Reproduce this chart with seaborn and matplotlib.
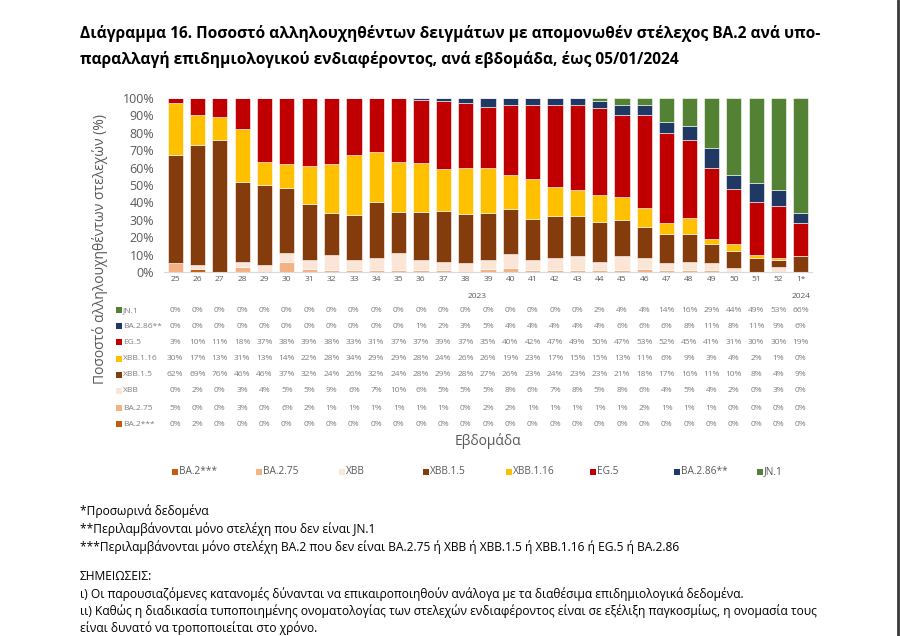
import numpy as np
import pandas as pd
import matplotlib
matplotlib.use("Agg")
import matplotlib.pyplot as plt
import matplotlib.transforms as mtransforms
from matplotlib.patches import Rectangle
from matplotlib.lines import Line2D
import seaborn as sns

weeks = ['25', '26', '27', '28', '29', '30', '31', '32', '33', '34', '35', '36', '37', '38',
         '39', '40', '41', '42', '43', '44', '45', '46', '47', '48', '49', '50', '51', '52', '1*']

variants = ['JN.1', 'BA.2.86**', 'EG.5', 'XBB.1.16', 'XBB.1.5', 'XBB', 'BA.2.75', 'BA.2***']

jn1 = [0, 0, 0, 0, 0, 0, 0, 0, 0, 0, 0, 0, 0, 0, 0, 0, 0, 0, 0, 2, 4, 4, 14, 16, 29, 44, 49, 53, 66]
ba286 = [0, 0, 0, 0, 0, 0, 0, 0, 0, 0, 0, 1, 2, 3, 5, 4, 4, 4, 4, 4, 6, 6, 6, 8, 11, 8, 11, 9, 6]
eg5 = [3, 10, 11, 18, 37, 38, 39, 38, 33, 31, 37, 37, 39, 37, 35, 40, 42, 47, 49, 50, 47, 53, 52, 45, 41, 31, 30, 30, 19]
xbb116 = [30, 17, 13, 31, 13, 14, 22, 28, 34, 29, 29, 28, 24, 26, 26, 19, 23, 17, 15, 15, 13, 11, 6, 9, 3, 4, 2, 1, 0]
xbb15 = [62, 69, 76, 46, 46, 37, 32, 24, 26, 32, 24, 28, 29, 28, 27, 26, 23, 24, 23, 23, 21, 18, 17, 16, 11, 10, 8, 4, 9]
xbb = [0, 2, 0, 3, 4, 5, 5, 9, 6, 7, 10, 6, 5, 5, 5, 8, 6, 7, 8, 5, 8, 6, 4, 5, 4, 2, 0, 3, 0]
ba275 = [5, 0, 0, 3, 0, 6, 2, 1, 1, 1, 1, 1, 1, 0, 2, 2, 1, 1, 1, 1, 1, 2, 1, 1, 1, 0, 0, 0, 0]
ba2 = [0, 2, 0, 0, 0, 0, 0, 0, 0, 0, 0, 0, 0, 0, 0, 0, 0, 0, 0, 0, 0, 0, 0, 0, 0, 0, 0, 0, 0]

series = [jn1, ba286, eg5, xbb116, xbb15, xbb, ba275, ba2]
colors = ['#548235', '#1F3864', '#C00000', '#FFC000', '#843C0C', '#FBE5D6', '#F4B183', '#C55A11']
legend_order = ['BA.2***', 'BA.2.75', 'XBB', 'XBB.1.5', 'XBB.1.16', 'EG.5', 'BA.2.86**', 'JN.1']
years = ['2023', '2024']

title_lines = ["Διάγραμμα 16. Ποσοστό αλληλουχηθέντων δειγμάτων με απομονωθέν στέλεχος BA.2 ανά υπο-",
               "παραλλαγή επιδημιολογικού ενδιαφέροντος, ανά εβδομάδα, έως 05/01/2024"]
notes = ["*Προσωρινά δεδομένα",
         "**Περιλαμβάνονται μόνο στελέχη που δεν είναι JN.1",
         "***Περιλαμβάνονται μόνο στελέχη BA.2 που δεν είναι BA.2.75 ή XBB ή XBB.1.5 ή XBB.1.16 ή EG.5 ή BA.2.86"]
remarks = ["ΣΗΜΕΙΩΣΕΙΣ:",
           "ι) Οι παρουσιαζόμενες κατανομές δύνανται να επικαιροποιηθούν ανάλογα με τα διαθέσιμα επιδημιολογικά δεδομένα.",
           "ιι) Καθώς η διαδικασία τυποποιημένης ονοματολογίας των στελεχών ενδιαφέροντος είναι σε εξέλιξη παγκοσμίως, η ονομασία τους",
           "είναι δυνατό να τροποποιείται στο χρόνο."]

rows = []
for name, vals in zip(variants, series):
    for i, v in enumerate(vals):
        rows.append({'idx': i, 'variant': name, 'value': v})
df = pd.DataFrame(rows)
palette = dict(zip(variants, colors))

sns.set_style("white")
plt.rcParams['font.family'] = ['Open Sans', 'DejaVu Sans']

W, H = 900, 636
fig = plt.figure(figsize=(9, 6.36), dpi=100)
ax = fig.add_axes([164 / W, 1 - 272 / H, (812 - 164) / W, (272 - 98) / H])

sns.histplot(data=df, x='idx', weights='value', hue='variant', hue_order=variants,
             multiple='fill', discrete=True, shrink=0.68, palette=palette,
             edgecolor='white', linewidth=0.4, alpha=1, legend=False, ax=ax)

ax.set_xlim(-0.5, len(weeks) - 0.5)
ax.set_ylim(0, 1)
ax.set_yticks(np.linspace(0, 1, 11))
ax.set_yticklabels([f"{int(round(t * 100))}%" for t in np.linspace(0, 1, 11)],
                   fontsize=9, color='#595959')
ax.set_xticks(range(len(weeks)))
ax.set_xticklabels(weeks, fontsize=6, color='#595959')
ax.tick_params(axis='both', length=0)
ax.tick_params(axis='y', pad=7)
ax.tick_params(axis='x', pad=3)
ax.set_xlabel('')
ax.set_ylabel('')
for s in ['top', 'right', 'left']:
    ax.spines[s].set_visible(False)
ax.spines['bottom'].set_color('#D9D9D9')
ax.spines['bottom'].set_linewidth(0.8)

# year labels and data table
bt = mtransforms.blended_transform_factory(ax.transData, fig.transFigure)
ax.text((len(weeks) - 2) / 2, 1 - 296 / H, years[0], transform=bt, ha='center', va='center',
        fontsize=6, color='#595959')
ax.text(len(weeks) - 1, 1 - 296 / H, years[1], transform=bt, ha='center', va='center',
        fontsize=6, color='#595959')

row_y = [310.7, 326, 342.3, 359, 375, 391, 408, 424]
for name, vals, col, ypix in zip(variants, series, colors, row_y):
    yf = 1 - ypix / H
    fig.patches.append(Rectangle((116 / W, yf - 2.8 / H), 6 / W, 6 / H,
                                 transform=fig.transFigure, facecolor=col, edgecolor='none'))
    fig.text(123 / W, yf, name, ha='left', va='center', fontsize=6, color='#7F7F7F')
    for i, v in enumerate(vals):
        ax.text(i, yf, f"{v}%", transform=bt, ha='center', va='center',
                fontsize=6, color='#7F7F7F')

# axis titles
fig.text(488 / W, 1 - 441 / H, 'Εβδομάδα', ha='center', va='center', fontsize=10, color='#595959')
fig.text(100 / W, 1 - 249 / H, 'Ποσοστό αλληλουχηθέντων στελεχών (%)', rotation=90,
         ha='center', va='center', fontsize=10, color='#595959')

# legend
for k, name in enumerate(legend_order):
    col = palette[name]
    x0 = 172 + 83.6 * k
    yf = 1 - 472 / H
    fig.patches.append(Rectangle((x0 / W, yf - 3 / H), 6 / W, 6 / H,
                                 transform=fig.transFigure, facecolor=col, edgecolor='none'))
    fig.text((x0 + 7) / W, yf, name, ha='left', va='center', fontsize=7.3, color='#595959')

# title
for j, line in enumerate(title_lines):
    fig.text(80 / W, 1 - (34 + 25 * j) / H, line, ha='left', va='center', fontsize=11.2,
             fontweight='bold', color='black')

# notes
for j, line in enumerate(notes):
    fig.text(80 / W, 1 - (511 + 18 * j) / H, line, ha='left', va='center', fontsize=8.65, color='black')
for j, line in enumerate(remarks):
    fig.text(80 / W, 1 - (577 + 17 * j) / H, line, ha='left', va='center', fontsize=8.65, color='black')

# page edge
fig.add_artist(Line2D([898 / W, 898 / W], [0, 1], transform=fig.transFigure, color='#3A3A3A', lw=2))

fig.savefig('out.png', dpi=100)
